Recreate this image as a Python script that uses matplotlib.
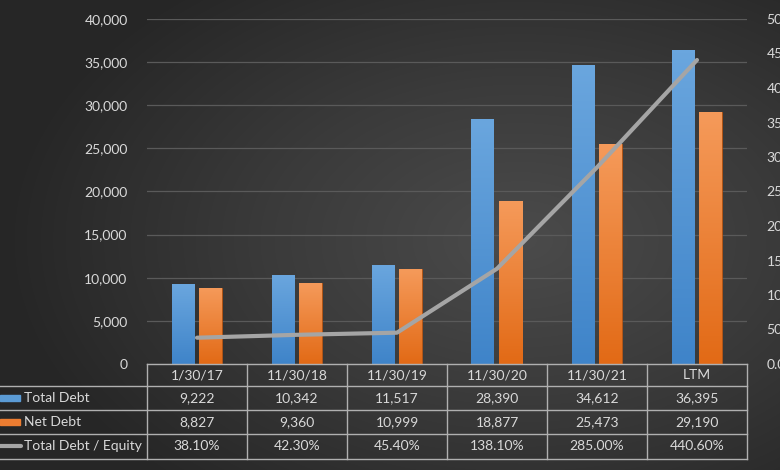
import numpy as np
import matplotlib.pyplot as plt
from matplotlib.colors import LinearSegmentedColormap
from matplotlib.ticker import FuncFormatter

plt.rcParams['font.family'] = ['Lato', 'DejaVu Sans']

categories = ["1/30/17", "11/30/18", "11/30/19", "11/30/20", "11/30/21", "LTM"]
total_debt = [9222, 10342, 11517, 28390, 34612, 36395]
net_debt = [8827, 9360, 10999, 18877, 25473, 29190]
debt_equity = [38.10, 42.30, 45.40, 138.10, 285.00, 440.60]

TXT = '#d9d9d9'
GRID = '#5a5a5a'
FS = 10
W, H = 780, 470

fig = plt.figure(figsize=(W / 100, H / 100), dpi=100)

# background radial gradient
bg = fig.add_axes([0, 0, 1, 1], zorder=-10)
yy, xx = np.mgrid[0:H, 0:W]
r = np.sqrt(((xx - 520) / 520.0) ** 2 + ((yy - 240) / 330.0) ** 2)
r = np.clip(r, 0, 1)
bg_cmap = LinearSegmentedColormap.from_list('bg', ['#4b4b4b', '#3a3a3a', '#262626'])
bg.imshow(r, cmap=bg_cmap, extent=[0, W, H, 0], aspect='auto', vmin=0, vmax=1)
bg.set_xlim(0, W)
bg.set_ylim(H, 0)
bg.axis('off')

# main plot area
left, right, top, bottom = 147, 747, 19, 364
ax = fig.add_axes([left / W, 1 - bottom / H, (right - left) / W, (bottom - top) / H])
ax.patch.set_alpha(0)
x = np.arange(len(categories))
bw = 0.23


def grad_bars(bars, c_top, c_bot):
    cm = LinearSegmentedColormap.from_list('g', [c_bot, c_top])
    for b in bars:
        x0, y0 = b.get_x(), b.get_y()
        w, h = b.get_width(), b.get_height()
        g = np.linspace(0, 1, 100).reshape(-1, 1)
        im = ax.imshow(g, cmap=cm, extent=[x0, x0 + w, y0, y0 + h],
                       origin='lower', aspect='auto', zorder=2)
        im.set_clip_path(b)
        b.set_facecolor('none')


b1 = ax.bar(x - 0.14, total_debt, bw, color='#5b9bd5', zorder=2, linewidth=0)
b2 = ax.bar(x + 0.135, net_debt, bw, color='#ed7d31', zorder=2,
            edgecolor='#c55a11', linewidth=0.6)
grad_bars(b1, '#6aa6de', '#3f84c9')
grad_bars(b2, '#f59a5a', '#e26a16')

ax.set_xlim(-0.5, len(categories) - 0.5)
ax.set_ylim(0, 40000)
ax.set_yticks(np.arange(0, 40001, 5000))
ax.yaxis.set_major_formatter(FuncFormatter(lambda v, p: f"{int(v):,}"))
ax.tick_params(axis='y', colors=TXT, labelsize=FS, length=0, pad=14)
ax.set_xticks([])
ax.grid(axis='y', color=GRID, linewidth=0.9, zorder=0)
for s in ax.spines.values():
    s.set_visible(False)

ax2 = ax.twinx()
ax2.plot(x, debt_equity, color='#a5a5a5', linewidth=3, zorder=5,
         solid_capstyle='round')
ax2.set_ylim(0, 500)
ax2.set_yticks(np.arange(0, 501, 50))
ax2.yaxis.set_major_formatter(FuncFormatter(lambda v, p: f"{v:.2f}%"))
ax2.tick_params(axis='y', colors=TXT, labelsize=FS, length=0, pad=14)
for s in ax2.spines.values():
    s.set_visible(False)

# data table below the chart
tb = fig.add_axes([0, 0, 1, 1], zorder=5)
tb.set_xlim(0, W)
tb.set_ylim(H, 0)
tb.axis('off')
tb.patch.set_alpha(0)

row_y = [364, 386, 410, 434, 459]
col_w = (right - left) / len(categories)
col_x = [left + i * col_w for i in range(len(categories) + 1)]
LC = '#b0b0b0'

tb.plot([left, right], [row_y[0]] * 2, color=LC, lw=1)
for yv in row_y[1:]:
    tb.plot([0, right], [yv] * 2, color=LC, lw=1)
for xv in col_x:
    tb.plot([xv, xv], [row_y[0], row_y[-1]], color=LC, lw=1)

rows = [[f"{v:,}" for v in total_debt],
        [f"{v:,}" for v in net_debt],
        [f"{v:.2f}%" for v in debt_equity]]
labels = ["Total Debt", "Net Debt", "Total Debt / Equity"]

for i, c in enumerate(categories):
    cx = (col_x[i] + col_x[i + 1]) / 2
    tb.text(cx, (row_y[0] + row_y[1]) / 2, c, color=TXT, fontsize=FS,
            ha='center', va='center')
    for r_i, row in enumerate(rows):
        tb.text(cx, (row_y[r_i + 1] + row_y[r_i + 2]) / 2, row[i], color=TXT,
                fontsize=FS, ha='center', va='center')

for r_i, lab in enumerate(labels):
    cy = (row_y[r_i + 1] + row_y[r_i + 2]) / 2
    tb.text(24, cy, lab, color=TXT, fontsize=FS, ha='left', va='center')

tb.add_patch(plt.Rectangle((0, 395), 20, 6, color='#5b9bd5'))
tb.add_patch(plt.Rectangle((0, 419), 20, 6, color='#ed7d31'))
tb.plot([0, 21], [446, 446], color='#a5a5a5', lw=3, solid_capstyle='round')

fig.savefig('out.png', dpi=100)
